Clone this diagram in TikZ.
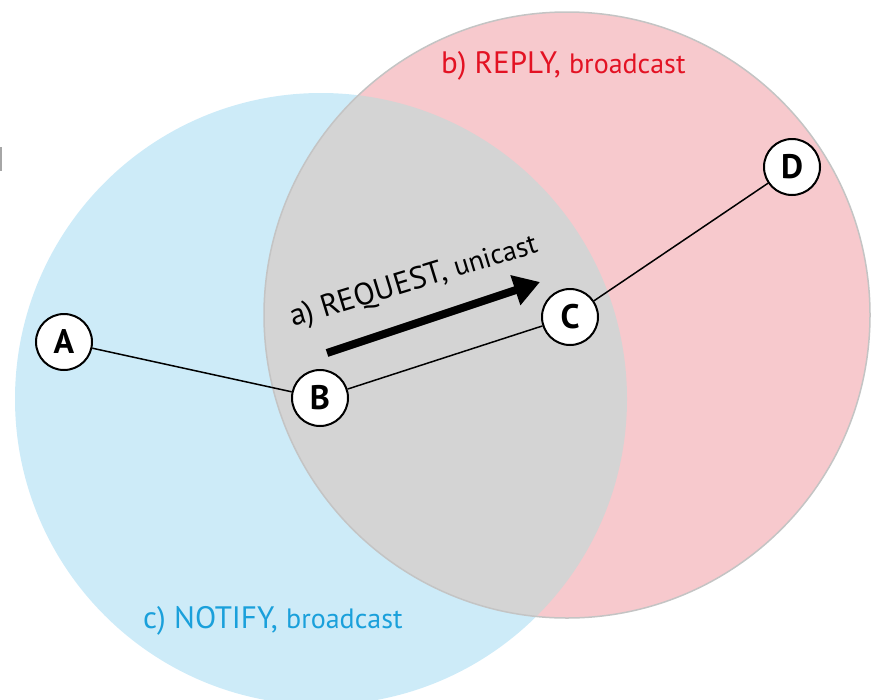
\documentclass[tikz,border=0pt]{standalone}
\usepackage{fontspec}
\setmainfont{PT Sans}
\usepackage{xcolor}
\usetikzlibrary{arrows.meta,positioning}
\definecolor{zoneblue}{RGB}{205,235,248}
\definecolor{zonered}{RGB}{247,201,205}
\definecolor{zonegray}{RGB}{212,212,212}
\definecolor{rimgray}{RGB}{196,196,196}
\definecolor{txtred}{RGB}{227,18,35}
\definecolor{txtblue}{RGB}{26,160,219}

\begin{document}
\begin{tikzpicture}[
  x=1pt, y=-1pt,
  station/.style={circle, draw, line width=2pt, fill=white, minimum size=56pt,
                  inner sep=0pt, font=\fontsize{34}{36}\selectfont\bfseries},
  link/.style={line width=1.5pt},
  msg/.style={anchor=base west, inner sep=0pt, font=\fontsize{31}{33}\selectfont},
  req/.style={-{Triangle[length=26pt,width=30pt]}, line width=8pt}
]
\useasboundingbox (0,0) rectangle (872,699);
\clip (0,0) rectangle (872,699);
\fill[gray!70] (0,147) rectangle (1.5,171);
\fill[zoneblue] (321,399) circle[radius=306pt];
\fill[zonered] (567,315) circle[radius=303pt];
\begin{scope}
  \clip (321,399) circle[radius=306pt];
  \fill[zonegray] (567,315) circle[radius=303pt];
\end{scope}
\draw[rimgray, line width=1.5pt] (567,315) circle[radius=303pt];

\node[station] (A) at (64,342) {A};
\node[station] (B) at (320,398) {B};
\node[station] (C) at (570,317) {C};
\node[station] (D) at (792,167) {D};
\draw[link] (A) -- (B);
\draw[link] (B) -- (C);
\draw[link] (C) -- (D);

\coordinate (reqtail) at (327,353);
\coordinate (reqtip) at (540,282);
\draw[req] (reqtail) -- (reqtip);

\node[msg, rotate=17] (request) at (293,327) {a) REQUEST, {\fontsize{28}{30}\selectfont unicast}};
\node[msg, text=txtred] (reply) at (441,73) {b) REPLY, {\fontsize{28}{30}\selectfont broadcast}};
\node[msg, text=txtblue] (notify) at (143,628) {c) NOTIFY, {\fontsize{28}{30}\selectfont broadcast}};
\end{tikzpicture}
\end{document}
